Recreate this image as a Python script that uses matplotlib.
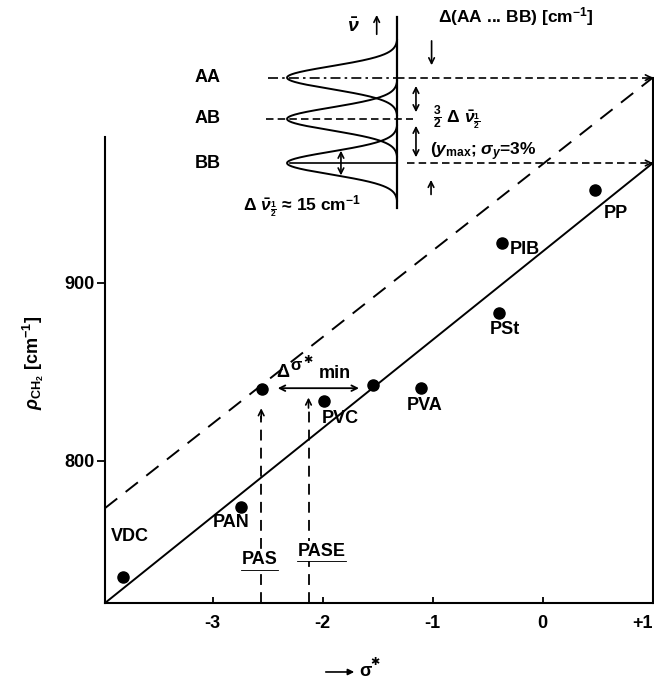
import matplotlib
matplotlib.use('Agg')
import matplotlib.pyplot as plt
import numpy as np

plt.rcParams['font.family'] = ['Liberation Sans', 'DejaVu Sans']
plt.rcParams['font.weight'] = 'bold'
plt.rcParams['mathtext.fontset'] = 'custom'
plt.rcParams['mathtext.rm'] = 'Liberation Sans:bold'
plt.rcParams['mathtext.it'] = 'Liberation Sans:italic:bold'
plt.rcParams['mathtext.bf'] = 'Liberation Sans:bold'

# Полимеры: sigma* и rho(CH2)
polymers = ['VDC', 'PAN', 'PVC', 'PVA', 'PIB', 'PSt', 'PP']
sigma_star = [-3.82, -2.74, -1.99, -1.11, -0.37, -0.40, 0.47]
rho_ch2 = [734.5, 774.0, 833.5, 841.0, 922.5, 883.0, 952.0]
label_offsets = [(7, 41), (-10, -16), (16, -17), (4, -18), (23, -7), (6, -17), (21, -23)]

# Прямые (сплошная и штриховая)
line_x = [-3.98, 1.0]
solid_y = [720.0, 967.2]
dashed_y = [773.3, 1015.2]

# Точки для delta sigma*_min
min_x = [-2.555, -1.541]
min_y = [840.1, 842.5]
arrow_y = 840.7

# PAS / PASE
ref_names = ['PAS', 'PASE']
ref_x = [-2.56, -2.13]
ref_top = [831.0, 837.0]
ref_label_x = [-2.571, -2.01]
ref_label_y = [744.2, 749.1]

# Полосы AA, AB, BB
band_names = ['AA', 'AB', 'BB']
band_pos = [1015.2, 992.0, 967.2]
half_width = 15.0

fig = plt.figure(figsize=(6.54, 6.89), dpi=100)
ax = fig.add_axes([0.16055, 0.12482, 0.83762, 0.86531])
ax.set_xlim(-3.98, 1.0)
ax.set_ylim(720, 1055)

lw = 1.4
ax.plot(line_x, solid_y, color='black', lw=lw)
ax.plot(line_x, dashed_y, color='black', lw=lw, ls=(0, (8, 5.5)))

ax.plot(sigma_star, rho_ch2, 'o', color='black', ms=8)
for name, x, y, off in zip(polymers, sigma_star, rho_ch2, label_offsets):
    ax.annotate(name, (x, y), xytext=off, textcoords='offset pixels',
                ha='center', va='center', fontsize=13)

# delta sigma*_min
ax.plot(min_x, min_y, 'o', color='black', ms=8)
ax.annotate('', xy=(min_x[0] + 0.12, arrow_y), xytext=(min_x[1] - 0.105, arrow_y),
            arrowprops=dict(arrowstyle='<->', lw=1.3, color='black'))
anchor = (-2.075, 849.8)
for txt, off, size, fam in [('Δ', (-32, -1), 13, None), ('σ', (-18, 6), 12, None),
                            ('✱', (-7, 12), 8, 'DejaVu Sans'), ('min', (20, -2), 13, None)]:
    kw = {'family': fam} if fam else {}
    ax.annotate(txt, anchor, xytext=off, textcoords='offset pixels',
                ha='center', va='center', fontsize=size, **kw)

# PAS / PASE
ref_texts = []
for name, x, top, lx, ly in zip(ref_names, ref_x, ref_top, ref_label_x, ref_label_y):
    ax.plot([x, x], [720, top - 6], color='black', lw=1.3, ls=(0, (6, 4)))
    ax.annotate('', xy=(x, top), xytext=(x, top - 9),
                arrowprops=dict(arrowstyle='->', lw=1.2, color='black'))
    t = ax.text(lx, ly, name, ha='center', va='center', fontsize=13,
                bbox=dict(facecolor='white', edgecolor='none', pad=1))
    ref_texts.append(t)

# Диаграмма полос
base = -1.321
amp = 1.004
s = half_width / 2.3548
for name, c in zip(band_names, band_pos):
    yy = np.linspace(c - 3.3 * s, c + 3.3 * s, 300)
    xx = base - amp * np.exp(-0.5 * ((yy - c) / s) ** 2)
    ax.plot(xx, yy, color='black', lw=lw, clip_on=False)
    ax.text(-3.162, c, name, ha='left', va='center', fontsize=13)
ax.plot([base, base], [941.9, 1049.3], color='black', lw=1.6)

aa, ab, bb = band_pos
ax.plot([-2.498, base], [aa, aa], color='black', lw=1.2, ls=(0, (6, 2.5, 1.5, 2.5)))
ax.plot([base, 0.97], [aa, aa], color='black', lw=1.2, ls=(0, (4.5, 2.5)))
ax.plot([-2.516, -1.18], [ab, ab], color='black', lw=1.2, ls=(0, (4.5, 2.5)))
ax.plot([-2.298, base], [bb, bb], color='black', lw=1.2)
ax.plot([-1.237, 0.97], [bb, bb], color='black', lw=1.2, ls=(0, (4.5, 2.5)))
for lev in (aa, bb):
    ax.annotate('', xy=(1.0, lev), xytext=(0.95, lev),
                arrowprops=dict(arrowstyle='->', lw=1.2, color='black'))

arr = dict(arrowstyle='->', lw=1.2, color='black')
arr2 = dict(arrowstyle='<->', lw=1.2, color='black')
ax.annotate('', xy=(-1.011, aa + 5.4), xytext=(-1.011, aa + 22.2), arrowprops=arr)
ax.annotate('', xy=(-1.016, bb - 7.9), xytext=(-1.016, bb - 19.2), arrowprops=arr)
ax.annotate('', xy=(-1.153, aa - 3.1), xytext=(-1.153, ab + 2.2), arrowprops=arr2)
ax.annotate('', xy=(-1.153, ab - 2.3), xytext=(-1.153, bb + 1.7), arrowprops=arr2)
ax.annotate('', xy=(-1.835, bb + half_width / 2 + 1), xytext=(-1.835, bb - half_width / 2 - 1), arrowprops=arr2)
ax.annotate('', xy=(-1.51, 1052), xytext=(-1.51, 1038), arrowprops=arr)

ax.text(-1.725, 1043.6, r'$\bar{\nu}$', ha='center', va='center', fontsize=14)
ax.text(-0.953, 1049.8, r'Δ(AA ... BB) [cm$^{-1}$]', ha='left', va='center', fontsize=12.5)
ax.text(-0.998, 992.5, r'$\frac{3}{2}$ Δ $\bar{\nu}_{\frac{1}{2}}$', ha='left', va='center', fontsize=12.5)
ax.text(-1.025, 973.4, r'($y_{\mathrm{max}}$; $\sigma_y$=3%', ha='left', va='center', fontsize=12.5)
ax.text(-2.725, 942.5, r'Δ $\bar{\nu}_{\frac{1}{2}}$ ≈ 15 cm$^{-1}$', ha='left', va='center', fontsize=12.5)

# Оси
for sp in ['left', 'right', 'bottom']:
    ax.spines[sp].set_linewidth(1.5)
ax.spines['top'].set_visible(False)
ax.spines['left'].set_bounds(720, 982)
ax.spines['right'].set_bounds(720, aa)

ax.set_xticks([-3, -2, -1, 0, 1])
ax.set_xticklabels(['-3', '-2', '-1', '0', '+1'])
ax.get_xticklabels()[-1].set_horizontalalignment('right')
ax.tick_params(axis='x', direction='in', length=4.5, width=1.3, pad=9, labelsize=13)
ax.set_yticks([800, 900])
ax.tick_params(axis='y', direction='out', length=6, width=1.3, pad=1.5, labelsize=13)

# Подпись оси x: стрелка и sigma*
fig.add_artist(matplotlib.patches.FancyArrowPatch(
    (323 / 654, 0.0247), (357 / 654, 0.0247), transform=fig.transFigure,
    arrowstyle='-|>', mutation_scale=9, lw=1.2, color='black'))
fig.text(359 / 654, 0.0247, 'σ', ha='left', va='center', fontsize=13)
fig.text(370 / 654, 0.039, '✱', ha='left', va='center', fontsize=8, family='DejaVu Sans')
fig.text(0.0505, 0.473, r'$\rho_{\mathrm{CH_2}}$ [cm$^{-1}$]', rotation=90,
         ha='center', va='center', fontsize=13)

# Подчёркивание PAS / PASE
fig.canvas.draw()
inv = ax.transData.inverted()
for t in ref_texts:
    bb_t = t.get_window_extent()
    (x0, y0), (x1, _) = inv.transform([[bb_t.x0, bb_t.y0 - 1.5], [bb_t.x1, bb_t.y0]])
    ax.plot([x0, x1], [y0, y0], color='black', lw=1.3)

fig.savefig('out.png', dpi=100)
